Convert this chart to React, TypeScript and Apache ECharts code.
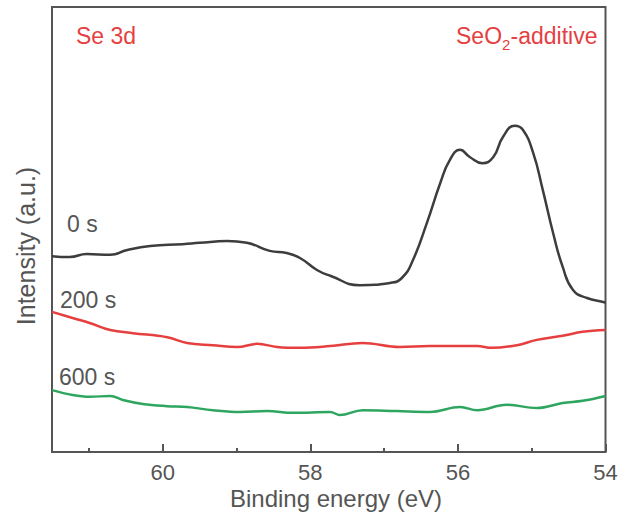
import React, { useEffect, useRef } from "react";
import * as echarts from "echarts";

// Binding energy (eV) and intensity (a.u., stacked offsets) for each etching time
const energy0s = [61.5, 61.26, 61.03, 60.71, 60.48, 60.17, 59.73, 59.5, 59.13, 58.86, 58.55, 58.32, 58.14, 57.91, 57.73, 57.33, 56.92, 56.76, 56.61, 56.42, 56.24, 56.11, 55.97, 55.84, 55.67, 55.52, 55.39, 55.23, 55.12, 54.98, 54.85, 54.71, 54.58, 54.44, 54.25, 54.03, 54.0];
const intensity0s = [44.0, 43.8, 44.5, 44.3, 45.4, 46.3, 46.7, 47.0, 47.4, 47.0, 45.2, 44.7, 43.6, 40.9, 39.6, 37.5, 38.0, 39.1, 43.1, 51.5, 60.4, 65.6, 67.9, 66.3, 64.9, 66.3, 70.8, 73.3, 72.4, 67.2, 58.9, 49.2, 41.6, 36.4, 34.6, 33.7, 33.5];

const energy200s = [61.5, 61.22, 60.99, 60.71, 60.4, 59.94, 59.67, 59.32, 58.99, 58.72, 58.45, 58.14, 57.73, 57.29, 56.79, 56.38, 55.74, 55.54, 55.2, 54.93, 54.58, 54.31, 54.0];
const intensity200s = [31.5, 30.1, 29.0, 27.4, 26.7, 25.8, 24.5, 24.0, 23.6, 24.3, 23.6, 23.4, 23.8, 24.5, 23.6, 23.8, 23.8, 23.4, 24.0, 25.2, 26.1, 27.0, 27.4];

const energy600s = [61.5, 61.22, 60.99, 60.71, 60.54, 60.27, 59.94, 59.67, 59.32, 58.95, 58.59, 58.23, 57.73, 57.6, 57.29, 56.83, 56.38, 55.97, 55.74, 55.34, 54.93, 54.58, 54.31, 54.0];
const intensity600s = [13.9, 12.8, 12.4, 12.6, 11.7, 10.8, 10.3, 10.1, 9.4, 9.0, 9.2, 8.8, 9.0, 8.3, 9.4, 9.2, 9.0, 10.1, 9.4, 10.6, 9.9, 11.0, 11.5, 12.6];

const majorTicks = [54, 56, 58, 60];
const minorTicks = [55, 57, 59, 61];

const FONT = "'Liberation Sans', Arial, sans-serif";
const TEXT_GRAY = "#555555";
const RED = "#e5403f";
const GREEN = "#2ea65f";
const DARK = "#3d3d3d";

const pairs = (xs: number[], ys: number[]) => xs.map((x, i) => [x, ys[i]]);

export default function App() {
  const ref = useRef<HTMLDivElement>(null);

  useEffect(() => {
    if (!ref.current) return;
    const chart = echarts.init(ref.current, undefined, { renderer: "svg" });

    const baseX = {
      type: "value" as const,
      min: 54,
      max: 61.5,
      inverse: true,
      position: "bottom" as const,
      axisLine: { show: false },
      splitLine: { show: false },
    };

    chart.setOption({
      animation: false,
      backgroundColor: "#ffffff",
      grid: {
        left: 52,
        right: 16.5,
        top: 7,
        bottom: 70,
        show: true,
        borderColor: "#555555",
        borderWidth: 2,
        backgroundColor: "transparent",
      },
      xAxis: [
        {
          ...baseX,
          axisTick: {
            show: true,
            inside: true,
            length: 8,
            customValues: majorTicks,
            lineStyle: { color: "#555555", width: 2 },
          },
          axisLabel: {
            show: true,
            customValues: majorTicks,
            fontSize: 22,
            color: TEXT_GRAY,
            fontFamily: FONT,
            margin: 9,
          },
        },
        {
          ...baseX,
          axisTick: {
            show: true,
            inside: true,
            length: 4,
            customValues: minorTicks,
            lineStyle: { color: "#555555", width: 2 },
          },
          axisLabel: { show: false, customValues: minorTicks },
        },
      ],
      yAxis: {
        type: "value",
        min: 0,
        max: 100,
        axisLine: { show: false },
        axisTick: { show: false },
        axisLabel: { show: false },
        splitLine: { show: false },
      },
      series: [
        {
          name: "0 s",
          type: "line",
          data: pairs(energy0s, intensity0s),
          showSymbol: false,
          smooth: 0.5,
          lineStyle: { color: DARK, width: 2.5 },
        },
        {
          name: "200 s",
          type: "line",
          data: pairs(energy200s, intensity200s),
          showSymbol: false,
          smooth: 0.4,
          lineStyle: { color: RED, width: 2.5 },
        },
        {
          name: "600 s",
          type: "line",
          data: pairs(energy600s, intensity600s),
          showSymbol: false,
          smooth: 0.4,
          lineStyle: { color: GREEN, width: 2.5 },
        },
      ],
      graphic: [
        {
          type: "text",
          x: 336,
          y: 498,
          style: {
            text: "Binding energy (eV)",
            fontSize: 24,
            fontFamily: FONT,
            fill: TEXT_GRAY,
            align: "center",
            verticalAlign: "middle",
          },
        },
        {
          type: "text",
          x: 26,
          y: 246,
          rotation: Math.PI / 2,
          style: {
            text: "Intensity (a.u.)",
            fontSize: 25,
            fontFamily: FONT,
            fill: TEXT_GRAY,
            align: "center",
            verticalAlign: "middle",
          },
        },
        {
          type: "text",
          x: 76,
          y: 36,
          style: { text: "Se 3d", fontSize: 23, fontFamily: FONT, fill: RED, align: "left", verticalAlign: "middle" },
        },
        {
          type: "text",
          x: 456,
          y: 36,
          style: { text: "SeO", fontSize: 23, fontFamily: FONT, fill: RED, align: "left", verticalAlign: "middle" },
        },
        {
          type: "text",
          x: 502,
          y: 44,
          style: { text: "2", fontSize: 15, fontFamily: FONT, fill: RED, align: "left", verticalAlign: "middle" },
        },
        {
          type: "text",
          x: 510.5,
          y: 36,
          style: { text: "-additive", fontSize: 23, fontFamily: FONT, fill: RED, align: "left", verticalAlign: "middle" },
        },
        {
          type: "text",
          x: 67,
          y: 224,
          style: { text: "0 s", fontSize: 23, fontFamily: FONT, fill: TEXT_GRAY, align: "left", verticalAlign: "middle" },
        },
        {
          type: "text",
          x: 60,
          y: 300,
          style: { text: "200 s", fontSize: 23, fontFamily: FONT, fill: TEXT_GRAY, align: "left", verticalAlign: "middle" },
        },
        {
          type: "text",
          x: 59,
          y: 377,
          style: { text: "600 s", fontSize: 23, fontFamily: FONT, fill: TEXT_GRAY, align: "left", verticalAlign: "middle" },
        },
      ],
    });

    return () => chart.dispose();
  }, []);

  return (
    <div
      ref={ref}
      style={{ position: "absolute", left: 0, top: 0, width: 622, height: 522 }}
    />
  );
}
